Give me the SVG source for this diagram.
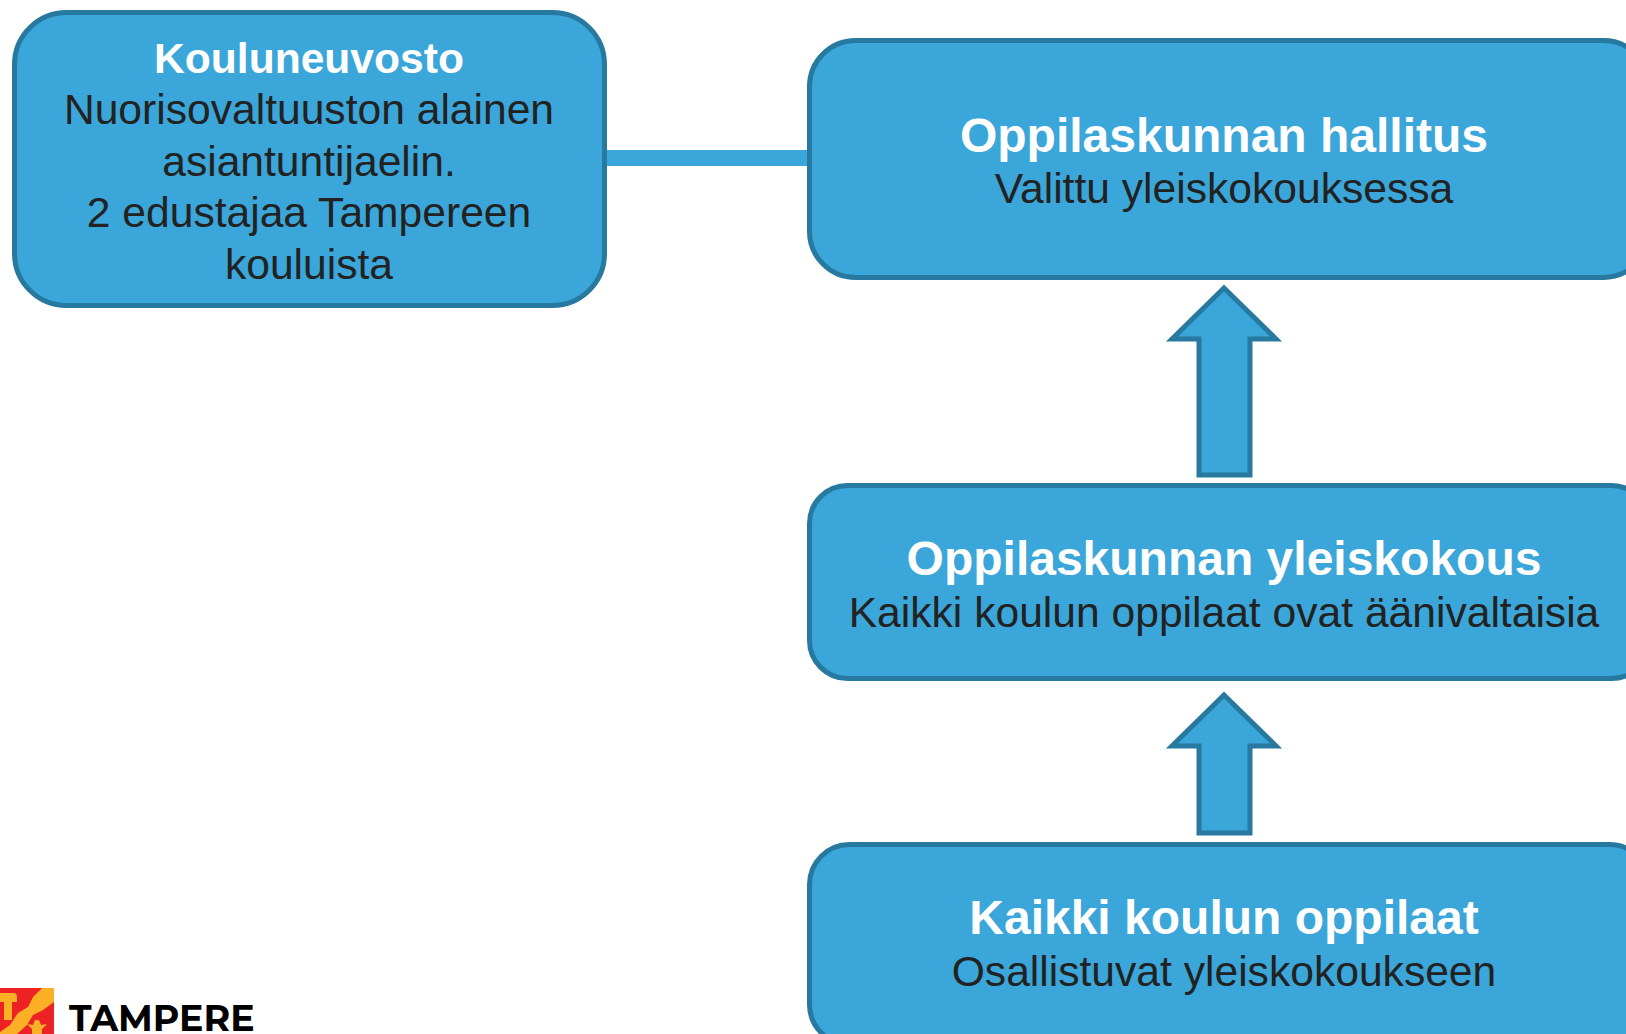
<svg xmlns="http://www.w3.org/2000/svg" width="1626" height="1034" viewBox="0 0 1626 1034">
<style>
.box{fill:#3aa6d9;stroke:#27799f;stroke-width:5}
.arrow{fill:#3aa6d9;stroke:#27799f;stroke-width:5}
text{font-family:"Liberation Sans",Arial,sans-serif;text-anchor:middle}
.t{font-weight:bold;font-size:48px;fill:#fff}
.s{font-size:42.600px;fill:#222}
.k{font-weight:bold;font-size:42.600px;fill:#fff}
.lg{font-family:"Montserrat","Open Sans","Liberation Sans",sans-serif;font-weight:bold;font-size:36.400px;fill:#000;text-anchor:start}
</style>
<rect width="1626" height="1034" fill="#fff"/>
<g id="connectors">
<rect id="link" x="604" y="150" width="206" height="16" fill="#3aa6d9"/>
<path id="arrow-1" class="arrow" d="M1224 288L1276 339H1250V475H1199V339H1172Z"/>
<path id="arrow-2" class="arrow" d="M1224 695L1276 746H1250V833H1199V746H1172Z"/>
</g>
<g id="kouluneuvosto">
<rect class="box" x="14.500" y="12.500" width="590" height="293" rx="52"/>
<text class="k" x="309" y="72.500">Kouluneuvosto</text>
<text class="s" x="309" y="124">Nuorisovaltuuston alainen</text>
<text class="s" x="309" y="176">asiantuntijaelin.</text>
<text class="s" x="309" y="227">2 edustajaa Tampereen</text>
<text class="s" x="309" y="279">kouluista</text>
</g>
<g id="hallitus">
<rect class="box" x="809.500" y="40.500" width="840" height="237" rx="46"/>
<text class="t" x="1224" y="151.500">Oppilaskunnan hallitus</text>
<text class="s" x="1224" y="203">Valittu yleiskokouksessa</text>
</g>
<g id="yleiskokous">
<rect class="box" x="809.500" y="485.500" width="840" height="193" rx="38"/>
<text class="t" x="1224" y="574.500">Oppilaskunnan yleiskokous</text>
<text class="s" x="1224" y="627">Kaikki koulun oppilaat ovat äänivaltaisia</text>
</g>
<g id="oppilaat">
<rect class="box" x="809.500" y="844.500" width="840" height="200" rx="40"/>
<text class="t" x="1224" y="933.500">Kaikki koulun oppilaat</text>
<text class="s" x="1224" y="986">Osallistuvat yleiskokoukseen</text>
</g>
<g id="logo">
<rect x="0" y="988" width="54" height="46" fill="#ed2224"/>
<path d="M42 988H54V1002L43 1010L33 1015L27 1025L17 1034H0V1032L10 1025L18 1013L28 1007L33 997Z" fill="#fbb025"/>
<path d="M0 993H14C16 993 17 995 17 997V1002H12V1020H4V1002H0Z" fill="#fbb025"/>
<path d="M27 1024L33 1025L35 1020H39L41 1025L47 1024L42 1029V1034H32V1029Z" fill="#fbb025"/>
<text class="lg" x="69" y="1031">TAMPERE</text>
</g>
</svg>
